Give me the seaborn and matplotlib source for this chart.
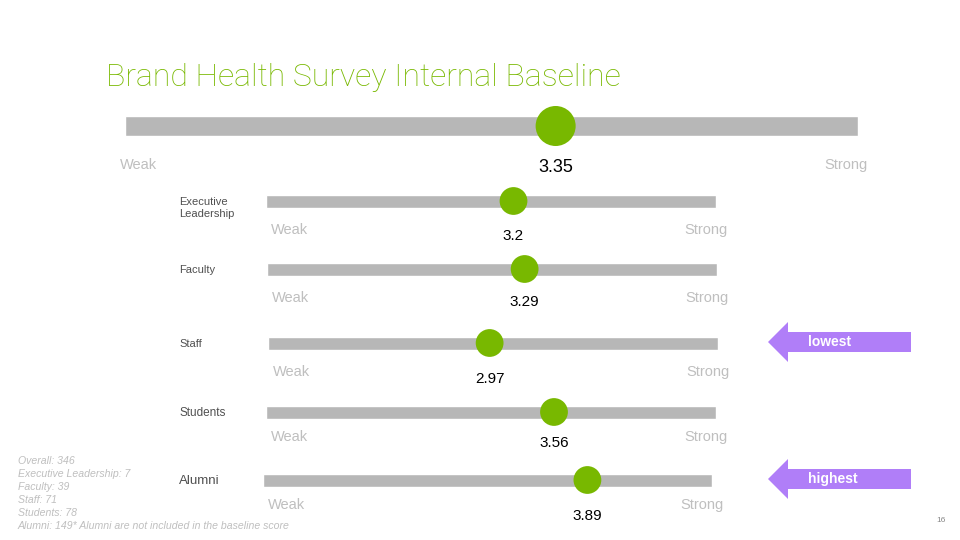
import matplotlib
matplotlib.use("Agg")
import matplotlib.pyplot as plt
from matplotlib.patches import Polygon
import seaborn as sns

# ── data ─────────────────────────────────────────
TITLE = "Brand Health Survey Internal Baseline"
OVERALL_SCORE = 3.35
GROUPS = ["Executive\nLeadership", "Faculty", "Staff", "Students", "Alumni"]
SCORES = [3.2, 3.29, 2.97, 3.56, 3.89]
SCALE_MIN, SCALE_MAX = 1, 5
SCALE_LABELS = ["Weak", "Strong"]
FOOTNOTE_LINES = [
    "Overall: 346",
    "Executive Leadership: 7",
    "Faculty: 39",
    "Staff: 71",
    "Students: 78",
    "Alumni: 149* Alumni are not included in the baseline score",
]
PAGE_NO = "16"

# ── layout (pixels on a 960x540 slide) ───────────
W, H = 960, 540
ROW_LEFT = [266, 267, 268, 266, 263]
ROW_RIGHT = [716, 717, 718, 716, 712]
ROW_Y = [201, 269, 343, 412, 480]
WEAK_DY = [29, 29, 29, 25, 25]
VALUE_DY = [35, 33, 36, 31, 36]
LABEL_SIZE = [8, 8, 8, 8.5, 9.5]

GREEN = "#78B800"
TRACK = "#B7B7B7"
PALE = "#BFBFBF"
PURPLE = "#B07EF8"

sns.set_theme(style="white")
plt.rcParams["font.family"] = ["Liberation Sans", "DejaVu Sans"]

fig = plt.figure(figsize=(9.6, 5.4), dpi=100)
fig.patch.set_facecolor("white")

# overlay axes in pixel units for slide furniture
overlay = fig.add_axes([0, 0, 1, 1], zorder=0)
overlay.set_xlim(0, W)
overlay.set_ylim(H, 0)
overlay.axis("off")


def track_axes(left, right, yc, h):
    ax = fig.add_axes([left / W, 1 - (yc + h / 2) / H, (right - left) / W, h / H], zorder=2)
    ax.set_xlim(SCALE_MIN, SCALE_MAX)
    ax.set_ylim(-0.5, 0.5)
    ax.axis("off")
    ax.barh(0, SCALE_MAX - SCALE_MIN, left=SCALE_MIN, height=1, color=TRACK, zorder=1)
    return ax


def draw_score(ax, score, size, value_dy, fontsize):
    sns.scatterplot(x=[score], y=[0], s=size, color=GREEN, edgecolor="none",
                    ax=ax, legend=False, clip_on=False, zorder=3)
    ax.annotate(f"{score}", (score, 0), xytext=(0, -value_dy * 0.72),
                textcoords="offset points", ha="center", va="center",
                fontsize=fontsize, color="black", annotation_clip=False)


# title
overlay.text(106, 78, TITLE, fontsize=23, color=GREEN, va="center", ha="left",
             family=["Roboto", "DejaVu Sans"], fontweight="light")

# ── overall bar ──────────────────────────────────
ax = track_axes(125, 858, 126, 20)
draw_score(ax, OVERALL_SCORE, 830, 42, 13)
overlay.text(120, 165, SCALE_LABELS[0], fontsize=10.5, color=PALE, va="center", ha="left")
overlay.text(868, 165, SCALE_LABELS[1], fontsize=10.5, color=PALE, va="center", ha="right")

# ── group bars ───────────────────────────────────
for i, (group, score) in enumerate(zip(GROUPS, SCORES)):
    ax = track_axes(ROW_LEFT[i], ROW_RIGHT[i], ROW_Y[i], 13)
    draw_score(ax, score, 400, VALUE_DY[i], 11)
    overlay.text(179, ROW_Y[i] + (7 if "\n" in group else 1), group,
                 fontsize=LABEL_SIZE[i], color="#505050", va="center", ha="left",
                 linespacing=1.3)
    overlay.text(ROW_LEFT[i] + 5, ROW_Y[i] + WEAK_DY[i], SCALE_LABELS[0],
                 fontsize=10.5, color=PALE, va="center", ha="left")
    overlay.text(ROW_RIGHT[i] + 12, ROW_Y[i] + WEAK_DY[i], SCALE_LABELS[1],
                 fontsize=10.5, color=PALE, va="center", ha="right")

# ── lowest / highest callouts ────────────────────
lo = SCORES.index(min(SCORES))
hi = SCORES.index(max(SCORES))
for idx, word in [(lo, "lowest"), (hi, "highest")]:
    yc = ROW_Y[idx] - 1
    pts = [(768, yc), (788, yc - 20), (788, yc - 10), (911, yc - 10),
           (911, yc + 10), (788, yc + 10), (788, yc + 20)]
    overlay.add_patch(Polygon(pts, closed=True, color=PURPLE, lw=0))
    overlay.text(808, yc, word, fontsize=10, color="white", fontweight="bold",
                 va="center", ha="left")

# ── footnote & page number ───────────────────────
for k, line in enumerate(FOOTNOTE_LINES):
    overlay.text(18, 461 + 13 * k, line, fontsize=7.6, color=PALE, style="italic",
                 va="center", ha="left")
overlay.text(946, 520, PAGE_NO, fontsize=6, color="#888888", va="center", ha="right")

fig.savefig("out.png", dpi=100, facecolor="white")
